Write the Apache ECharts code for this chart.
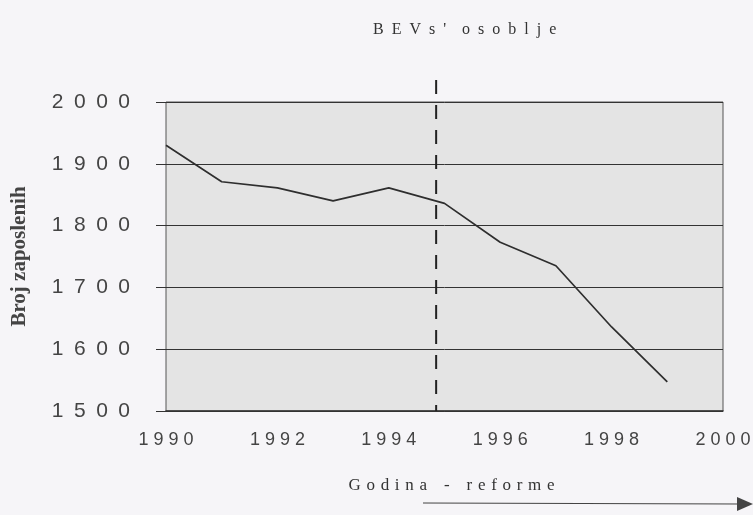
<!DOCTYPE html>
<html>
<head>
<meta charset="utf-8">
<script src="https://cdn.jsdelivr.net/npm/echarts@6/dist/echarts.min.js"></script>
<style>
  html, body { margin: 0; padding: 0; background: #f6f5f8; }
  #main { width: 753px; height: 515px; }
</style>
</head>
<body>
<div id="main"></div>
<script>
// podaci s grafa
var godine = [1990, 1991, 1992, 1993, 1994, 1995, 1996, 1997, 1998, 1999];
var osoblje = [1930, 1871, 1861, 1840, 1861, 1836, 1773, 1735, 1636, 1547];
var godinaReforme = 1994.85;              // crtkana linija je na slici malo lijevo od 1995
var reformaOd = 2035, reformaDo = 1500;   // ide od vrha (malo iznad grafa) prema dolje
var osY = 'Broj zaposlenih';

var tocke = [];
for (var i = 0; i < godine.length; i++) {
  tocke.push([godine[i], osoblje[i]]);
}

// razmaci izmedju slova kao na originalu
function razmakni(v, sep) {
  return String(v).split('').join(sep);
}

var myChart = echarts.init(document.getElementById('main'));
var option = {
  backgroundColor: '#f6f5f8',
  title: {
    text: razmakni("BEVs'", '\u2002') + '\u2003' + razmakni('osoblje', '\u2002'),
    left: 368,
    top: 17,
    textStyle: {
      fontFamily: 'Liberation Serif',
      fontWeight: 'normal',
      fontSize: 16,
      color: '#333'
    }
  },
  grid: [{
    left: 166,
    right: 30,
    top: 102,
    bottom: 104,
    outerBoundsMode: 'none',
    show: true,
    backgroundColor: '#e4e4e4',
    borderColor: '#555',
    borderWidth: 1
  }, {
    left: 166,
    right: 30,
    top: 80,
    bottom: 104,
    outerBoundsMode: 'none'
  }],
  xAxis: [{
    type: 'value',
    min: 1990,
    max: 2000,
    interval: 2,
    name: razmakni('Godina', '\u2004') + '\u2003-\u2003' + razmakni('reforme', '\u2004'),
    nameLocation: 'middle',
    nameGap: 66,
    nameTextStyle: {
      fontFamily: 'Liberation Serif',
      fontSize: 17,
      color: '#333',
      padding: [0, 0, 0, 14]
    },
    axisLine: { show: true, lineStyle: { color: '#333', width: 1.5 } },
    axisTick: { show: false },
    splitLine: { show: false },
    axisLabel: {
      margin: 20,
      fontFamily: 'Liberation Sans',
      fontSize: 18,
      color: '#444',
      formatter: function (v) { return razmakni(v, ' '); }
    }
  }, {
    gridIndex: 1,
    type: 'value',
    min: 1990,
    max: 2000,
    show: false
  }],
  yAxis: [{
    type: 'value',
    min: 1500,
    max: 2000,
    interval: 100,
    name: osY,
    nameLocation: 'middle',
    nameGap: 136,
    nameRotate: 90,
    nameTextStyle: {
      fontFamily: 'Liberation Serif',
      fontWeight: 'bold',
      fontSize: 21,
      color: '#444'
    },
    axisLine: { show: false },
    axisTick: { show: true, inside: false, length: 10, lineStyle: { color: '#333' } },
    splitLine: { show: true, lineStyle: { color: '#333', width: 1 } },
    axisLabel: {
      margin: 36,
      fontFamily: 'Liberation Sans',
      fontSize: 21,
      color: '#444',
      formatter: function (v) { return razmakni(v, '\u2002'); }
    }
  }, {
    gridIndex: 1,
    type: 'value',
    min: 1500,
    max: 2035,
    show: false
  }],
  series: [{
    name: 'Osoblje',
    type: 'line',
    data: tocke,
    symbol: 'none',
    lineStyle: { color: '#2e2e2e', width: 1.7 }
  }, {
    name: 'Reforma',
    type: 'line',
    xAxisIndex: 1,
    yAxisIndex: 1,
    data: [[godinaReforme, reformaOd], [godinaReforme, reformaDo]],
    symbol: 'none',
    silent: true,
    lineStyle: { color: '#222', width: 2, type: [14, 11] }
  }],
  graphic: [{
    type: 'line',
    shape: { x1: 423, y1: 503, x2: 740, y2: 504 },
    style: { stroke: '#444', lineWidth: 1.2 }
  }, {
    type: 'polygon',
    shape: { points: [[737, 497], [753, 504], [737, 511]] },
    style: { fill: '#444' }
  }]
};
myChart.setOption(option);
</script>
</body>
</html>
